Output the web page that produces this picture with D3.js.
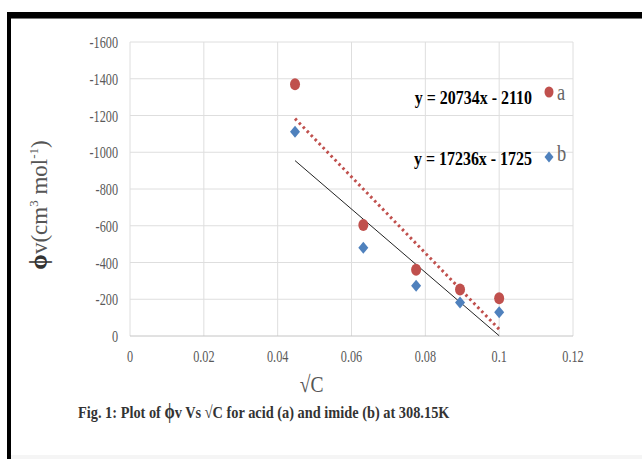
<!DOCTYPE html>
<html>
<head>
<meta charset="utf-8">
<script src="https://cdnjs.cloudflare.com/ajax/libs/d3/7.8.5/d3.min.js"></script>
<style>
  body { margin: 0; background: #fff; }
  svg { display: block; }
</style>
</head>
<body>
<div id="chart"></div>
<script>
// data
var xValues = [0.0447, 0.0632, 0.0775, 0.0894, 0.1];
var seriesA = [-1370, -604, -361, -253, -205];
var seriesB = [-1112, -480, -274, -182, -129];
var seriesNames = ["a", "b"];
var trendSlopes = [20734, 17236];
var trendIntercepts = [-2110, -1725];
var equationLabels = ["y = 20734x - 2110", "y = 17236x - 1725"];
var xTicks = [0, 0.02, 0.04, 0.06, 0.08, 0.1, 0.12];
var yTicks = [0, -200, -400, -600, -800, -1000, -1200, -1400, -1600];

var svgWidth = 642;
var svgHeight = 459;

var svg = d3.select("#chart")
    .append("svg")
    .attr("width", svgWidth)
    .attr("height", svgHeight);

// frame (black bars top and left, faint band at the bottom)
svg.append("rect").attr("x", 7).attr("y", 12).attr("width", 635).attr("height", 6).attr("fill", "#000");
svg.append("rect").attr("x", 7).attr("y", 12).attr("width", 4).attr("height", 447).attr("fill", "#000");
svg.append("rect").attr("x", 11).attr("y", 18).attr("width", 631).attr("height", 1).attr("fill", "#777");
svg.append("rect").attr("x", 11).attr("y", 455).attr("width", 631).attr("height", 4).attr("fill", "#f5f5f5");

var plot = { left: 130, right: 573, top: 42, bottom: 336 };

var x = d3.scaleLinear().domain([0, 0.12]).range([plot.left, plot.right]);
var y = d3.scaleLinear().domain([0, -1600]).range([plot.bottom, plot.top]);

// condensed serif text helper
function ctext(g, px, py, str, opts) {
    var t = g.append("text")
        .attr("transform", `translate(${px}, ${py}) scale(${opts.sx || 0.8}, 1)`)
        .attr("font-family", "'Liberation Serif', 'Times New Roman', serif")
        .attr("font-size", opts.size || 15)
        .attr("font-weight", opts.weight || "normal")
        .attr("fill", opts.fill || "#595959")
        .attr("text-anchor", opts.anchor || "start")
        .text(str);
    return t;
}

// gridlines
svg.append("g")
    .selectAll("line.v")
    .data(xTicks)
    .enter()
    .append("line")
    .attr("x1", d => x(d)).attr("x2", d => x(d))
    .attr("y1", plot.top).attr("y2", plot.bottom)
    .attr("stroke", "#dedede").attr("stroke-width", 1);

svg.append("g")
    .selectAll("line.h")
    .data(yTicks)
    .enter()
    .append("line")
    .attr("x1", plot.left).attr("x2", plot.right)
    .attr("y1", d => y(d)).attr("y2", d => y(d))
    .attr("stroke", d => d === 0 ? "#c4c4c4" : "#dedede").attr("stroke-width", 1);

// tick labels
var tickG = svg.append("g");
xTicks.forEach(function(d) {
    ctext(tickG, x(d), 362, d3.format("~g")(d), { size: 17, anchor: "middle", sx: 0.72 });
});
yTicks.forEach(function(d) {
    ctext(tickG, 118, y(d) + 6, d === 0 ? "0" : "-" + Math.abs(d), { size: 17, anchor: "end", sx: 0.72 });
});

// axis titles
ctext(svg, x(0.0492), 392, "√C", { size: 23, anchor: "middle", sx: 0.85, fill: "#555" });

var yTitle = svg.append("text")
    .attr("transform", "translate(47, 205) rotate(-90)")
    .attr("font-family", "'Liberation Serif', 'Times New Roman', serif")
    .attr("font-size", 23)
    .attr("fill", "#555")
    .attr("text-anchor", "middle");
yTitle.append("tspan").attr("fill", "#333").attr("font-weight", "bold").attr("font-size", 25).text("ϕ");
yTitle.append("tspan").text("v(cm");
yTitle.append("tspan").attr("font-size", 13).attr("dy", -9).text("3");
yTitle.append("tspan").attr("dy", 9).text(" mol");
yTitle.append("tspan").attr("font-size", 13).attr("dy", -9).text("-1");
yTitle.append("tspan").attr("dy", 9).text(")");

// trendlines
var xExtent = d3.extent(xValues);
var colors = ["#c0504d", "#4f81bd"];

svg.append("line")
    .attr("x1", x(xExtent[0])).attr("y1", y(trendSlopes[0] * xExtent[0] + trendIntercepts[0]))
    .attr("x2", x(xExtent[1])).attr("y2", y(trendSlopes[0] * xExtent[1] + trendIntercepts[0]))
    .attr("stroke", colors[0]).attr("stroke-width", 3)
    .attr("stroke-dasharray", "2.5 3.2");

svg.append("line")
    .attr("x1", x(xExtent[0])).attr("y1", y(trendSlopes[1] * xExtent[0] + trendIntercepts[1]))
    .attr("x2", x(xExtent[1])).attr("y2", y(trendSlopes[1] * xExtent[1] + trendIntercepts[1]))
    .attr("stroke", "#222").attr("stroke-width", 1);

// points
svg.append("g")
    .selectAll("ellipse")
    .data(seriesA)
    .enter()
    .append("ellipse")
    .attr("cx", (d, i) => x(xValues[i]))
    .attr("cy", d => y(d))
    .attr("rx", 5)
    .attr("ry", 6)
    .attr("fill", colors[0]);

var diamond = function(cx, cy, w, h) {
    return `M${cx},${cy - h} L${cx + w},${cy} L${cx},${cy + h} L${cx - w},${cy} Z`;
};

svg.append("g")
    .selectAll("path")
    .data(seriesB)
    .enter()
    .append("path")
    .attr("d", (d, i) => diamond(x(xValues[i]), y(d), 5, 6))
    .attr("fill", colors[1]);

// equations + legend
var eqY = [104, 165];
equationLabels.forEach(function(lbl, i) {
    ctext(svg, 532, eqY[i], lbl, { size: 19, weight: "bold", anchor: "end", sx: 0.84, fill: "#000" });
});

svg.append("ellipse").attr("cx", 549).attr("cy", 92).attr("rx", 4.5).attr("ry", 5.5).attr("fill", colors[0]);
svg.append("path").attr("d", diamond(549, 157, 4.5, 5.5)).attr("fill", colors[1]);
seriesNames.forEach(function(n, i) {
    ctext(svg, 557, eqY[i] - 4, n, { size: 23, anchor: "start", sx: 0.8, fill: "#666" });
});

// caption
var cap = svg.append("text")
    .attr("transform", "translate(78, 418) scale(0.82, 1)")
    .attr("font-family", "'Liberation Serif', 'Times New Roman', serif")
    .attr("font-size", 17.5)
    .attr("font-weight", "bold")
    .attr("fill", "#333");
cap.append("tspan").text("Fig. 1: Plot of  ");
cap.append("tspan").attr("font-size", 20).text("ϕ");
cap.append("tspan").text("v Vs  √C for acid (a) and imide (b) at 308.15K");
</script>
</body>
</html>
